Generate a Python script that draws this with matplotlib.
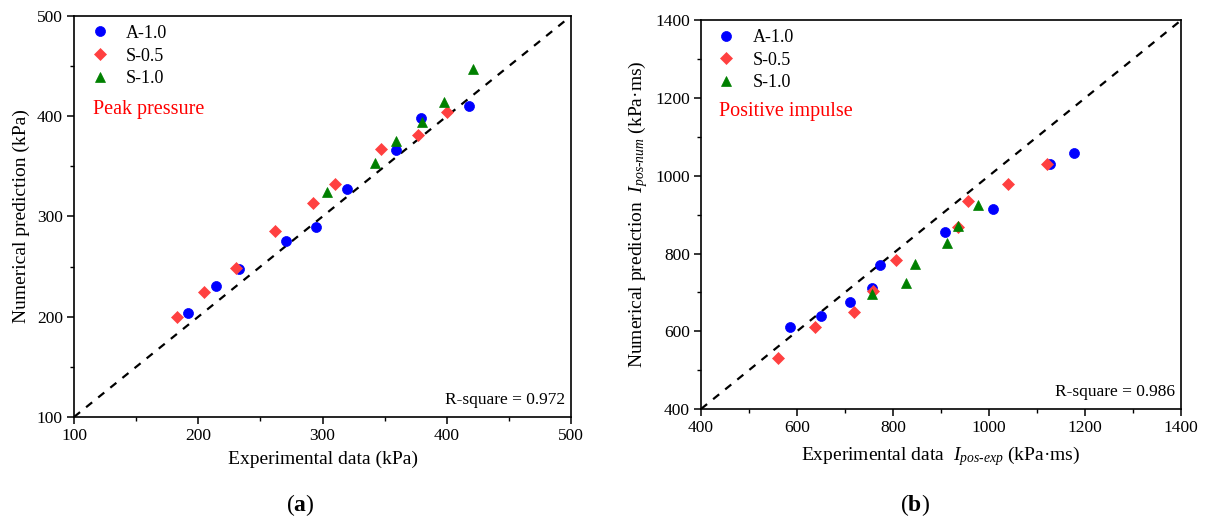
import matplotlib.pyplot as plt
import matplotlib as mpl
from matplotlib.ticker import MultipleLocator

# ===== data =====
series_names = ['A-1.0', 'S-0.5', 'S-1.0']

# (a) peak pressure, kPa
peak_exp = {
    'A-1.0': [192, 214, 233, 271, 295, 320, 359, 379, 418],
    'S-0.5': [183, 205, 230, 262, 292, 310, 347, 377, 400],
    'S-1.0': [304, 342, 359, 380, 398, 421],
}
peak_num = {
    'A-1.0': [204, 231, 248, 276, 290, 327, 366, 398, 410],
    'S-0.5': [200, 225, 249, 286, 313, 332, 367, 381, 404],
    'S-1.0': [324, 353, 375, 394, 414, 447],
}
peak_r2 = 0.972

# (b) positive impulse, kPa·ms
imp_exp = {
    'A-1.0': [585, 650, 710, 756, 773, 908, 1009, 1127, 1176],
    'S-0.5': [560, 638, 719, 759, 806, 936, 956, 1040, 1120],
    'S-1.0': [756, 828, 846, 913, 936, 976],
}
imp_num = {
    'A-1.0': [610, 640, 675, 711, 770, 855, 914, 1030, 1059],
    'S-0.5': [530, 610, 650, 704, 782, 869, 936, 978, 1030],
    'S-1.0': [696, 724, 773, 826, 872, 925],
}
imp_r2 = 0.986

# ===== style =====
STYLE = {
    'A-1.0': dict(color='#0000FF', marker='o', markersize=7.2),
    'S-0.5': dict(color='#FF4040', marker='D', markersize=6.0),
    'S-1.0': dict(color='#008000', marker='^', markersize=7.4),
}

mpl.rcParams.update({
    'font.family': ['Liberation Serif', 'DejaVu Serif'],
    'font.size': 12,
    'mathtext.fontset': 'custom',
    'mathtext.rm': 'Liberation Serif',
    'mathtext.it': 'Liberation Serif:italic',
    'mathtext.bf': 'Liberation Serif:bold',
    'axes.linewidth': 1.2,
    'axes.edgecolor': '#000000',
    'xtick.direction': 'out',
    'ytick.direction': 'out',
    'xtick.major.size': 5,
    'ytick.major.size': 5,
    'xtick.minor.size': 3,
    'ytick.minor.size': 3,
    'xtick.major.width': 1.1,
    'ytick.major.width': 1.1,
    'xtick.minor.width': 1.0,
    'ytick.minor.width': 1.0,
    'xtick.labelsize': 12.5,
    'ytick.labelsize': 12.5,
})

fig = plt.figure(figsize=(12.07, 5.24), dpi=100)
ax1 = fig.add_axes([0.0613, 0.2042, 0.4118, 0.7653])
ax2 = fig.add_axes([0.5808, 0.2195, 0.3977, 0.7418])


def draw_panel(ax, xs, ys, lo, hi, major, minor, tag, r2):
    ax.plot([lo, hi], [lo, hi], color='black', linewidth=1.6,
            linestyle=(0, (3.5, 3.5)), zorder=2)
    for name in series_names:
        st = STYLE[name]
        ax.plot(xs[name], ys[name], linestyle='none', label=name,
                marker=st['marker'], markersize=st['markersize'],
                markerfacecolor=st['color'], markeredgecolor=st['color'],
                markeredgewidth=0.5, zorder=3)
    ax.set_xlim(lo, hi)
    ax.set_ylim(lo, hi)
    ax.xaxis.set_major_locator(MultipleLocator(major))
    ax.yaxis.set_major_locator(MultipleLocator(major))
    ax.xaxis.set_minor_locator(MultipleLocator(minor))
    ax.yaxis.set_minor_locator(MultipleLocator(minor))
    ax.tick_params(which='both', top=False, right=False, pad=3)

    ax.legend(loc='upper left', bbox_to_anchor=(0.034, 0.978),
              frameon=False, borderpad=0, borderaxespad=0,
              handlelength=1.0, handletextpad=0.95, labelspacing=0.32,
              fontsize=13, numpoints=1)
    ax.text(0.038, 0.766, tag, transform=ax.transAxes, color='#FF0000',
            fontsize=14.5, ha='left', va='center')
    ax.text(0.988, 0.022, f'R-square = {r2:.3f}', transform=ax.transAxes,
            fontsize=12.5, ha='right', va='bottom')


draw_panel(ax1, peak_exp, peak_num, 100, 500, 100, 50, 'Peak pressure', peak_r2)
ax1.set_xlabel('Experimental data (kPa)', fontsize=14, labelpad=5)
ax1.set_ylabel('Numerical prediction (kPa)', fontsize=14, labelpad=5)

draw_panel(ax2, imp_exp, imp_num, 400, 1400, 200, 100, 'Positive impulse', imp_r2)
ax2.set_xlabel(r'Experimental data  $I_{pos\text{-}exp}$ (kPa·ms)',
               fontsize=14, labelpad=6)
ax2.set_ylabel(r'Numerical prediction  $I_{pos\text{-}num}$ (kPa·ms)',
               fontsize=14, labelpad=4)

# panel tags
fig.text(300 / 1207, 1 - 505 / 524, r'($\mathbf{a}$)', fontsize=17,
         ha='center', va='center')
fig.text(915 / 1207, 1 - 505 / 524, r'($\mathbf{b}$)', fontsize=17,
         ha='center', va='center')

fig.savefig('out.png', dpi=100)
